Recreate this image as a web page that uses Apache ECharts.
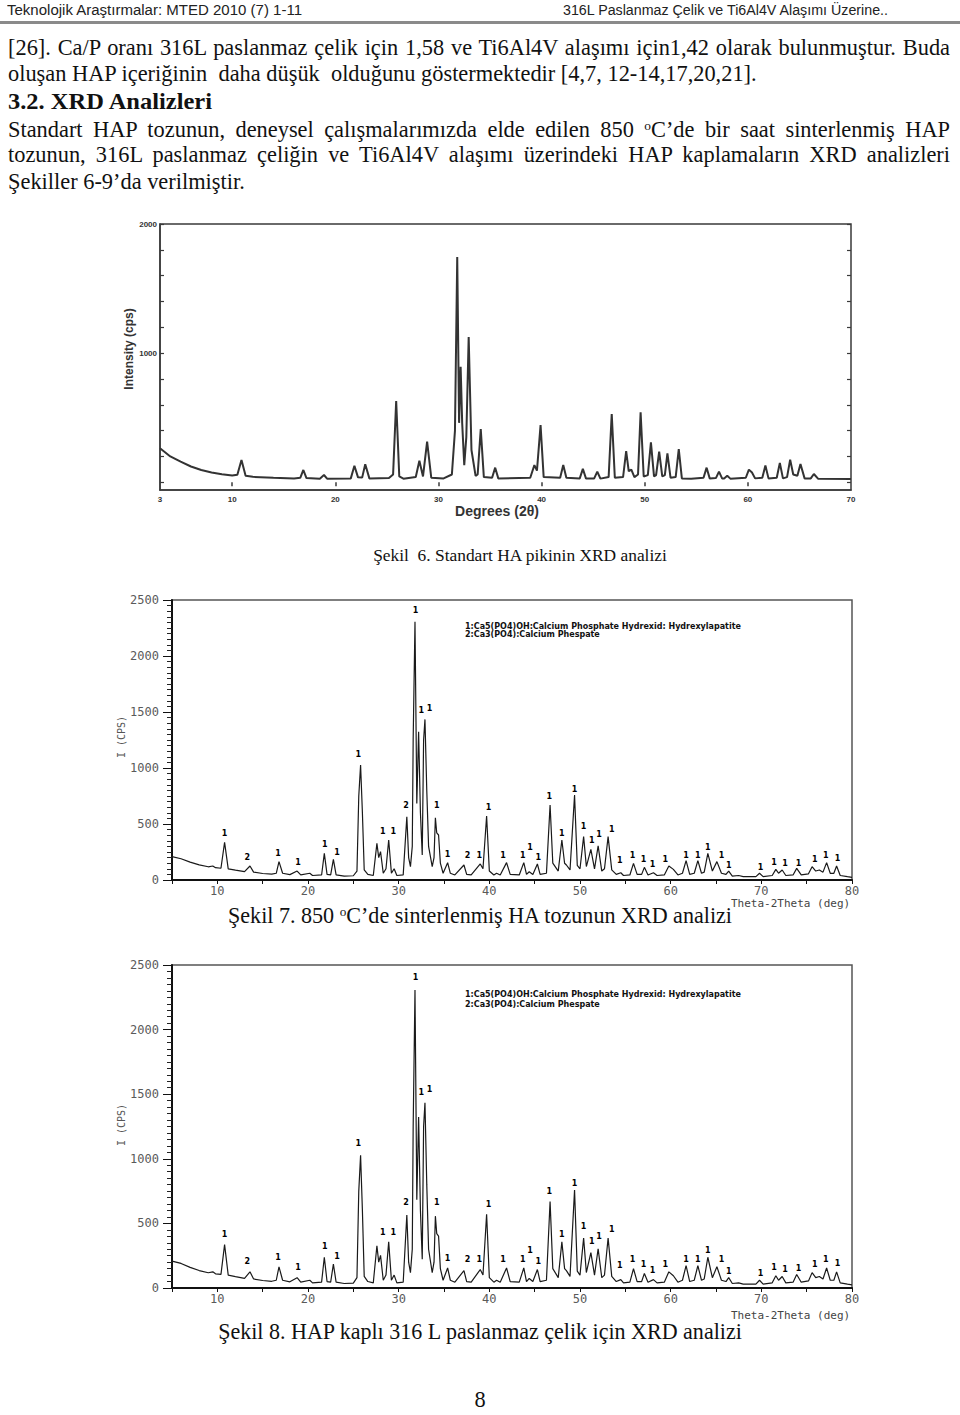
<!DOCTYPE html>
<html><head><meta charset="utf-8">
<script src="https://cdn.jsdelivr.net/npm/echarts@6/dist/echarts.min.js"></script>
<style>
html,body{margin:0;padding:0;background:#fff;}
#page{position:relative;width:960px;height:1415px;overflow:hidden;background:#fff;}
#chart{position:absolute;left:0;top:0;width:960px;height:1415px;}
.t{position:absolute;white-space:nowrap;font-family:"Liberation Serif","Times New Roman",serif;font-size:20px;line-height:1;color:#111;transform-origin:0 50%;}
.j{text-align:justify;text-align-last:justify;white-space:normal;}
.hd{font-family:"Liberation Sans",Arial,sans-serif;font-size:14px;color:#222;}
sup{font-size:0.6em;line-height:0;vertical-align:0.55em;}
#rule{position:absolute;left:0;top:21px;width:960px;height:3px;background:#8a8a8a;}
</style></head>
<body><div id="page">
<div id="chart"></div>
<div class="t hd fitx" data-x="7" data-y="10" data-w="295">Teknolojik Araştırmalar: MTED 2010 (7) 1-11</div>
<div class="t hd fitx" data-x="563" data-y="10" data-w="325">316L Paslanmaz Çelik ve Ti6Al4V Alaşımı Üzerine..</div>
<div id="rule"></div>
<div class="t j p" data-x="8" data-y="48" style="width:942px">[26]. Ca/P oranı 316L paslanmaz çelik için 1,58 ve Ti6Al4V alaşımı için1,42 olarak bulunmuştur. Buda</div>
<div class="t p" id="ref" data-x="8" data-y="74">oluşan HAP içeriğinin&nbsp; daha düşük&nbsp; olduğunu göstermektedir [4,7, 12-14,17,20,21].</div>
<div class="t p fitx" data-x="8" data-y="102" data-w="204" style="font-weight:bold">3.2. XRD Analizleri</div>
<div class="t j p" data-x="8" data-y="130" style="width:942px">Standart HAP tozunun, deneysel çalışmalarımızda elde edilen 850 <sup>o</sup>C’de bir saat sinterlenmiş HAP</div>
<div class="t j p" data-x="8" data-y="155" style="width:942px">tozunun, 316L paslanmaz çeliğin ve Ti6Al4V alaşımı üzerindeki HAP kaplamaların XRD analizleri</div>
<div class="t p" data-x="8" data-y="182">Şekiller 6-9’da verilmiştir.</div>
<div class="t cap" data-cx="520" data-y="556" data-w="294">Şekil&nbsp; 6. Standart HA pikinin XRD analizi</div>
<div class="t cap" data-cx="480" data-y="916" data-w="504">Şekil 7. 850 <sup>o</sup>C’de sinterlenmiş HA tozunun XRD analizi</div>
<div class="t cap" data-cx="480" data-y="1332" data-w="524">Şekil 8. HAP kaplı 316 L paslanmaz çelik için XRD analizi</div>
<div class="t p" data-cx="480" data-y="1400">8</div>
</div>
<script>
// ---------- DATA ----------
// Şekil 6: standard HAP powder, [2θ (deg), intensity (cps)]
const fig6Data = [
[3,263],[4,200],[5,160],[6,122],[7,95],[8,75],[9,62],[10,52],[10.5,58],[10.9,172],[11.3,50],[12,42],[14,34],[16,30],[16.6,34],[16.9,95],[17.2,32],[18.5,28],[18.9,56],[19.2,28],[21.5,30],[21.85,128],[22.2,38],[22.6,36],[22.9,139],[23.3,30],[25.2,32],[25.6,60],[25.9,628],[26.2,45],[26.6,28],[27.8,40],[28.15,167],[28.5,45],[28.9,314],[29.3,35],[30.5,30],[31.3,60],[31.6,400],[31.82,1744],[32.0,460],[32.15,894],[32.3,458],[32.5,133],[32.7,350],[32.93,1125],[33.2,250],[33.6,50],[33.8,60],[34.1,412],[34.4,40],[35.2,35],[35.5,113],[35.8,30],[38.9,35],[39.3,133],[39.55,90],[39.9,442],[40.2,40],[41.8,35],[42.1,133],[42.4,35],[43.7,30],[44.0,104],[44.3,30],[45.1,30],[45.4,82],[45.7,28],[46.5,40],[46.8,528],[47.1,35],[47.9,40],[48.2,242],[48.45,85],[48.7,98],[49.0,40],[49.35,60],[49.6,541],[49.9,45],[50.3,55],[50.6,309],[50.9,45],[51.1,55],[51.4,237],[51.7,45],[51.95,55],[52.2,224],[52.5,35],[53.0,40],[53.3,257],[53.6,30],[54.5,28],[55.7,35],[56.0,113],[56.3,30],[56.9,32],[57.2,82],[57.5,30],[57.7,30],[58.0,51],[58.3,28],[59.8,35],[60.1,98],[60.4,75],[60.7,30],[61.4,35],[61.7,129],[62.0,30],[62.8,35],[63.1,150],[63.4,30],[63.8,40],[64.1,175],[64.4,60],[64.8,50],[65.1,142],[65.5,30],[66.1,30],[66.4,64],[66.8,28],[70,26]
];
const fig6XLabels = [3,10,20,30,40,50,60,70];
const fig6XTopTicks = [10,20,30,40,50,60];
const fig6YLabels = [1000,2000];
const fig6YTicks = [0,200,400,600,800,1000,1200,1400,1600,1800,2000];

// Şekil 7 / Şekil 8: sintered HA / HAP-coated 316L (same pattern in both pictures)
const fig7Data = [
[5,208],[6,190],[7,160],[8,135],[9,118],[9.5,125],[9.8,110],[10.4,105],[10.8,336],[11.2,100],[12,88],[13,75],[13.6,125],[14,70],[15,58],[16,52],[16.5,60],[16.8,164],[17.2,60],[18,48],[18.8,80],[19.2,45],[20.2,60],[20.5,40],[21.5,45],[21.8,238],[22.1,50],[22.5,45],[22.8,185],[23.1,45],[24,35],[25,38],[25.4,80],[25.6,750],[25.8,1027],[26.0,600],[26.2,90],[26.6,50],[27.2,40],[27.6,327],[27.8,200],[28.0,253],[28.3,60],[28.6,100],[28.9,357],[29.2,60],[29.5,100],[29.8,40],[30.5,45],[30.9,565],[31.1,200],[31.3,119],[31.5,300],[31.6,1250],[31.8,2306],[31.95,1100],[32.0,684],[32.2,1324],[32.4,600],[32.6,223],[32.75,1250],[32.9,1434],[33.1,800],[33.3,300],[33.7,119],[33.9,200],[34.05,556],[34.2,420],[34.4,402],[34.6,150],[34.9,60],[35.4,155],[35.7,60],[36.2,45],[37.2,134],[37.5,50],[38,45],[39.0,143],[39.3,100],[39.7,571],[40.0,80],[40.5,45],[40.8,60],[41.2,45],[41.9,155],[42.3,50],[43.3,45],[43.8,155],[44.1,50],[44.4,74],[44.8,50],[45.3,143],[45.6,50],[46.3,60],[46.7,670],[47.0,150],[47.6,80],[48.0,357],[48.3,150],[48.5,134],[48.9,90],[49.4,759],[49.7,130],[50.0,100],[50.4,387],[50.7,120],[51.2,274],[51.6,100],[52.0,304],[52.4,80],[52.7,100],[53.1,387],[53.5,90],[54.0,50],[54.5,65],[54.8,40],[55.5,45],[55.9,149],[56.3,50],[56.8,50],[57.1,113],[57.5,45],[58.1,65],[58.5,40],[59.3,45],[59.8,125],[60.3,95],[60.8,45],[61.3,60],[61.7,173],[62.1,50],[62.6,60],[63.0,173],[63.4,60],[63.7,70],[64.1,238],[64.6,80],[65.1,164],[65.6,60],[66.1,50],[66.4,80],[66.8,35],[67.5,40],[68,30],[69.4,30],[69.8,60],[70.2,30],[71.2,40],[71.6,95],[71.9,60],[72.3,89],[72.7,40],[73.5,45],[73.9,104],[74.4,45],[75.2,55],[75.6,119],[76.0,80],[76.4,89],[76.8,70],[77.2,155],[77.6,60],[78.0,60],[78.3,125],[78.7,40],[79.5,30],[80,24]
];
// phase labels above peaks: [2θ, height (cps), phase]
const fig7PeakLabels = [
[10.8,411,'1'],[13.3,202,'2'],[16.7,238,'1'],[18.9,158,'1'],[21.85,321,'1'],[23.2,244,'1'],[25.55,1122,'1'],[28.25,432,'1'],[29.4,432,'1'],[30.8,661,'2'],[31.85,2402,'1'],[32.5,1512,'1'],[33.4,1533,'1'],[34.2,664,'1'],[35.4,232,'1'],[37.6,223,'2'],[38.9,223,'1'],[39.9,649,'1'],
[41.5,223,'1'],[43.7,223,'1'],[44.5,292,'1'],[45.4,202,'1'],[46.6,750,'1'],[48.0,411,'1'],[49.4,812,'1'],[50.4,476,'1'],[51.3,357,'1'],[52.1,402,'1'],[53.5,455,'1'],[54.4,173,'1'],[55.8,217,'1'],[57.0,185,'1'],[58.0,134,'1'],[59.4,185,'1'],[61.7,223,'1'],[63.0,217,'1'],[64.1,292,'1'],[65.6,223,'1'],[66.4,128,'1'],[69.9,110,'1'],[71.4,158,'1'],[72.6,146,'1'],[74.1,149,'1'],[75.9,185,'1'],[77.1,223,'1'],[78.4,190,'1']
];
const fig8Data = fig7Data;
const fig8PeakLabels = fig7PeakLabels;
const hapXLabels = [10,20,30,40,50,60,70,80];
const hapXTicks = [5,10,15,20,25,30,35,40,45,50,55,60,65,70,75,80];
const legendLines = ['1:Ca5(PO4)OH:Calcium Phosphate Hydrexid: Hydrexylapatite','2:Ca3(PO4):Calcium Phespate'];

// ---------- text fitting ----------
(function(){
  const ref = document.getElementById('ref');
  ref.style.fontSize='20px';
  const w = ref.getBoundingClientRect().width;
  const fs = 20*749/w;
  document.querySelectorAll('.p,.j').forEach(el=>{el.style.fontSize=fs+'px';});
  document.querySelectorAll('.t').forEach(el=>{
    if(el.classList.contains('cap')){
      el.style.fontSize='20px';
      const cw = el.getBoundingClientRect().width;
      const nf = 20*parseFloat(el.dataset.w)/cw;
      el.style.fontSize=nf+'px';
    }
    const ff = parseFloat(getComputedStyle(el).fontSize);
    el.style.top=(parseFloat(el.dataset.y)-ff/2)+'px';
    if(el.dataset.cx){
      const ww = el.getBoundingClientRect().width;
      el.style.left=(parseFloat(el.dataset.cx)-ww/2)+'px';
    } else {
      el.style.left=el.dataset.x+'px';
    }
    if(el.classList.contains('fitx')){
      const ww = el.getBoundingClientRect().width;
      el.style.transform='scaleX('+(parseFloat(el.dataset.w)/ww)+')';
    }
  });
})();

// ---------- chart ----------
const chart = echarts.init(document.getElementById('chart'), null, {renderer:'svg'});
const plain = v => String(v);
const monoLbl = {fontFamily:'"DejaVu Sans Mono", monospace', fontSize:12, color:'#5a5a5a', formatter:plain};
function hapAxes(gi){
  return {
    x:{gridIndex:gi,type:'value',min:5,max:80,position:'bottom',
      axisLine:{show:true,onZero:false,lineStyle:{color:'#111',width:2}},
      axisTick:{show:true,customValues:hapXTicks,length:4,lineStyle:{color:'#111',width:1}},
      axisLabel:Object.assign({customValues:hapXLabels,margin:5},monoLbl),
      splitLine:{show:false}},
    y:{gridIndex:gi,type:'value',min:0,max:2500,interval:500,
      axisLine:{show:true,lineStyle:{color:'#111',width:2}},
      axisTick:{show:true,length:9,lineStyle:{color:'#111',width:1}},
      minorTick:{show:true,splitNumber:10,length:5,lineStyle:{color:'#222',width:1}},
      axisLabel:Object.assign({margin:13},monoLbl),
      splitLine:{show:false},minorSplitLine:{show:false}}
  };
}
const a2 = hapAxes(1), a3 = hapAxes(2);
const boldSmall = {fontFamily:'"Liberation Sans", Arial, sans-serif',fontSize:8,fontWeight:'bold',color:'#333',formatter:plain};
function peakLabelSeries(xi,yi,data){
  return {type:'scatter',xAxisIndex:xi,yAxisIndex:yi,data:data,symbolSize:0,
    itemStyle:{color:'rgba(0,0,0,0)'},silent:true,z:5,
    labelLayout:{hideOverlap:false},
    label:{show:true,position:'inside',opacity:1,formatter:p=>p.value[2],fontFamily:'"DejaVu Sans", sans-serif',fontSize:8,fontWeight:'bold',color:'#000'}};
}
function legendText(y0,dy){
  return legendLines.map((t,i)=>({type:'text',x:465,y:y0+i*dy,
    style:{text:t,font:'bold 8px "DejaVu Sans", sans-serif',fill:'#111',verticalAlign:'middle',align:'left'}}));
}
const option = {
  animation:false,
  backgroundColor:'transparent',
  grid:[
    {left:160,top:224,width:691,height:266,show:true,borderColor:'#3a3a3a',borderWidth:1.5,backgroundColor:'transparent',outerBoundsMode:'none',containLabel:false},
    {left:172,top:600,width:680,height:280,show:true,borderColor:'#555',borderWidth:1.5,backgroundColor:'transparent',outerBoundsMode:'none',containLabel:false},
    {left:172,top:965,width:680,height:323,show:true,borderColor:'#555',borderWidth:1.5,backgroundColor:'transparent',outerBoundsMode:'none',containLabel:false}
  ],
  xAxis:[
    {gridIndex:0,type:'value',min:3,max:70,position:'bottom',
      axisLine:{show:true,onZero:false,lineStyle:{color:'#3a3a3a',width:1.5}},
      axisTick:{show:false},
      axisLabel:Object.assign({customValues:fig6XLabels,margin:5},boldSmall),
      splitLine:{show:false}},
    {gridIndex:0,type:'value',min:3,max:70,position:'top',
      axisLine:{show:false},
      axisTick:{show:true,inside:true,customValues:fig6XTopTicks,length:4,lineStyle:{color:'#3a3a3a',width:1.5}},
      axisLabel:{show:false},splitLine:{show:false}},
    a2.x, a3.x
  ],
  yAxis:[
    {gridIndex:0,type:'value',min:-60,max:2000,position:'left',
      axisLine:{show:true,lineStyle:{color:'#3a3a3a',width:1.5}},
      axisTick:{show:true,inside:true,customValues:fig6YTicks,length:4,lineStyle:{color:'#3a3a3a',width:1.2}},
      axisLabel:Object.assign({customValues:fig6YLabels,margin:3},boldSmall),
      splitLine:{show:false}},
    {gridIndex:0,type:'value',min:-60,max:2000,position:'right',
      axisLine:{show:false},
      axisTick:{show:true,inside:true,customValues:fig6YTicks,length:4,lineStyle:{color:'#3a3a3a',width:1.2}},
      axisLabel:{show:false},splitLine:{show:false}},
    a2.y, a3.y
  ],
  series:[
    {type:'line',xAxisIndex:0,yAxisIndex:0,data:fig6Data,showSymbol:false,symbol:'none',
      lineStyle:{color:'#333',width:2},silent:true},
    {type:'line',xAxisIndex:2,yAxisIndex:2,data:fig7Data,showSymbol:false,symbol:'none',
      lineStyle:{color:'#1a1a1a',width:1.2},silent:true},
    peakLabelSeries(2,2,fig7PeakLabels),
    {type:'line',xAxisIndex:3,yAxisIndex:3,data:fig8Data,showSymbol:false,symbol:'none',
      lineStyle:{color:'#1a1a1a',width:1.2},silent:true},
    peakLabelSeries(3,3,fig8PeakLabels)
  ],
  graphic:[
    {type:'text',x:129,y:349,rotation:Math.PI/2,
      style:{text:'Intensity (cps)',font:'bold 12px "Liberation Sans", Arial, sans-serif',fill:'#333',align:'center',verticalAlign:'middle'}},
    {type:'text',x:497,y:511,
      style:{text:'Degrees (2θ)',font:'bold 14px "Liberation Sans", Arial, sans-serif',fill:'#333',align:'center',verticalAlign:'middle'}},
    {type:'text',x:121,y:737,rotation:Math.PI/2,
      style:{text:'I (CPS)',font:'10px "DejaVu Sans Mono", monospace',fill:'#555',align:'center',verticalAlign:'middle'}},
    {type:'text',x:121,y:1125,rotation:Math.PI/2,
      style:{text:'I (CPS)',font:'10px "DejaVu Sans Mono", monospace',fill:'#555',align:'center',verticalAlign:'middle'}},
    {type:'text',x:731,y:903,
      style:{text:'Theta-2Theta (deg)',font:'11px "DejaVu Sans Mono", monospace',fill:'#444',align:'left',verticalAlign:'middle'}},
    {type:'text',x:731,y:1315,
      style:{text:'Theta-2Theta (deg)',font:'11px "DejaVu Sans Mono", monospace',fill:'#444',align:'left',verticalAlign:'middle'}}
  ].concat(legendText(626,8.6)).concat(legendText(994,10))
};
chart.setOption(option);
</script>
</body></html>
